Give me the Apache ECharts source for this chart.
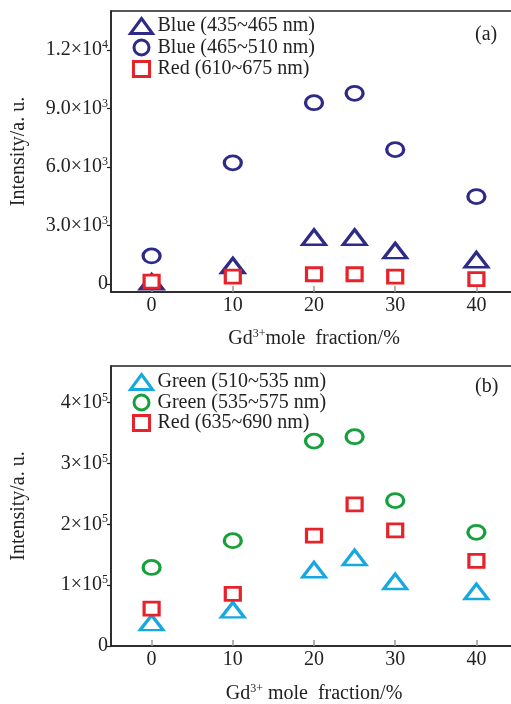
<!DOCTYPE html>
<html><head><meta charset="utf-8">
<script src="https://cdn.jsdelivr.net/npm/echarts@6/dist/echarts.min.js"></script>
<style>html,body{margin:0;padding:0;background:#fff}#c{width:511px;height:704px}</style>
</head><body><div id="c"></div>
<script>
// ---- data ----
const xValues = [0, 10, 20, 25, 30, 40];
const xTickValues = [0, 10, 20, 30, 40];

// panel (a)
const blue435 = [120, 950, 2410, 2410, 1720, 1250];
const blue465 = [1450, 6220, 9300, 9780, 6900, 4490];
const redA = [130, 390, 510, 510, 390, 260];
const yTicksA = [0, 3000, 6000, 9000, 12000];
const yMantA = ['0', '3.0×10', '6.0×10', '9.0×10', '1.2×10'];
const yExpA = ['', '3', '3', '3', '4'];

// panel (b)
const green510 = [38400, 59300, 125200, 145500, 105900, 89500];
const green535 = [129000, 173000, 336600, 343800, 238900, 186700];
const redB = [61500, 85700, 181200, 232800, 190000, 140000];
const yTicksB = [0, 100000, 200000, 300000, 400000];
const yMantB = ['0', '1×10', '2×10', '3×10', '4×10'];
const yExpB = ['', '5', '5', '5', '5'];

const namesA = ['Blue (435~465 nm)', 'Blue (465~510 nm)', 'Red (610~675 nm)'];
const namesB = ['Green (510~535 nm)', 'Green (535~575 nm)', 'Red (635~690 nm)'];

// ---- style ----
const FONT = '"Liberation Serif", "DejaVu Serif", serif';
const NAVY = '#2d2b86', RED = '#e6222b', CYAN = '#17a8e0', GREEN = '#16a03c';
const TXT = '#222';
const FS = 20;

function pairs(ys) { return xValues.map((x, i) => [x, ys[i]]); }

function yLabelFmt(ticks, mant, exp) {
  return function (v) {
    const i = ticks.indexOf(v);
    if (i < 0) return '';
    return exp[i] ? '{m|' + mant[i] + '}{e|' + exp[i] + '}' : '{m|' + mant[i] + '}';
  };
}
const labelRich = {
  m: { fontFamily: FONT, fontSize: FS, color: TXT },
  e: { fontFamily: FONT, fontSize: 12, color: TXT, verticalAlign: 'top', padding: [0, 0, 10, 0] }
};

function makeX(gi, name, gap) {
  return {
    type: 'value', gridIndex: gi, min: -5, max: 45,
    splitLine: { show: false },
    axisLine: { onZero: false, lineStyle: { color: TXT, width: 1.5 } },
    axisTick: { show: true, inside: true, length: 6, customValues: xTickValues, lineStyle: { color: '#999', width: 1.5 } },
    axisLabel: { customValues: xTickValues, fontFamily: FONT, fontSize: FS, color: TXT, margin: 4 },
    name: name, nameLocation: 'middle', nameGap: gap,
    nameTextStyle: { fontFamily: FONT, fontSize: FS, color: TXT, rich: {
      n: { fontFamily: FONT, fontSize: FS, color: TXT },
      s: { fontFamily: FONT, fontSize: 12, color: TXT, verticalAlign: 'top', padding: [0, 0, 10, 0] } } }
  };
}
function makeY(gi, min, max, ticks, mant, exp) {
  return {
    type: 'value', gridIndex: gi, min: min, max: max,
    splitLine: { show: false },
    axisLine: { show: true, onZero: false, lineStyle: { color: TXT, width: 1.5 } },
    axisTick: { show: true, length: 4, customValues: ticks, lineStyle: { color: TXT, width: 1.2 } },
    axisLabel: { customValues: ticks, formatter: yLabelFmt(ticks, mant, exp), rich: labelRich, margin: 3 },
    name: 'Intensity/a. u.', nameLocation: 'middle', nameGap: 82,
    nameTextStyle: { fontFamily: FONT, fontSize: FS, color: TXT }
  };
}
function sc(name, data, gi, symbol, size, color) {
  return {
    type: 'scatter', name: name, xAxisIndex: gi, yAxisIndex: gi, data: pairs(data),
    symbol: symbol, symbolSize: size,
    itemStyle: { color: '#fff', borderColor: color, borderWidth: 3, opacity: 1 },
    emphasis: { disabled: true }
  };
}
const RECT_ICON = 'path://M0 0H15V14H0Z';
function legend(top, gap, names, colors) {
  const icons = ['triangle', 'circle', RECT_ICON];
  return {
    orient: 'vertical', left: 124, top: top, itemWidth: 22, itemHeight: 15, itemGap: gap,
    symbolKeepAspect: true,
    textStyle: { fontFamily: FONT, fontSize: FS, color: TXT, lineHeight: 18 },
    data: names.map((n, i) => ({ name: n, icon: icons[i],
      itemStyle: { color: '#fff', borderColor: colors[i], borderWidth: 3 } }))
  };
}

const chart = echarts.init(document.getElementById('c'), null, { renderer: 'canvas' });
chart.setOption({
  animation: false,
  backgroundColor: '#fff',
  title: [
    { text: '(a)', left: 470, top: 20, textStyle: { fontFamily: FONT, fontSize: FS, fontWeight: 'normal', color: TXT } },
    { text: '(b)', left: 470, top: 372, textStyle: { fontFamily: FONT, fontSize: FS, fontWeight: 'normal', color: TXT } }
  ],
  grid: [
    { left: 111, top: 11, width: 406, height: 281, outerBoundsMode: 'none', containLabel: false, show: true, borderColor: TXT, borderWidth: 1.5, backgroundColor: 'transparent' },
    { left: 111, top: 366, width: 406, height: 280, outerBoundsMode: 'none', containLabel: false, show: true, borderColor: TXT, borderWidth: 1.5, backgroundColor: 'transparent' }
  ],
  legend: [
    legend(11, 1.5, namesA, [NAVY, NAVY, RED]),
    legend(367, 0.5, namesB, [CYAN, GREEN, RED])
  ],
  xAxis: [
    makeX(0, '{n|Gd}{s|3+}{n|mole  fraction/%}', 36),
    makeX(1, '{n|Gd}{s|3+}{n| mole  fraction/%}', 37)
  ],
  yAxis: [
    makeY(0, -400, 14000, yTicksA, yMantA, yExpA),
    makeY(1, 0, 460000, yTicksB, yMantB, yExpB)
  ],
  series: [
    sc(namesA[0], blue435, 0, 'triangle', [23, 15], NAVY),
    sc(namesA[1], blue465, 0, 'circle', [17, 14], NAVY),
    sc(namesA[2], redA, 0, 'rect', [15, 13], RED),
    sc(namesB[0], green510, 1, 'triangle', [23, 15], CYAN),
    sc(namesB[1], green535, 1, 'circle', [17, 14], GREEN),
    sc(namesB[2], redB, 1, 'rect', [15, 13], RED)
  ]
});
</script></body></html>
